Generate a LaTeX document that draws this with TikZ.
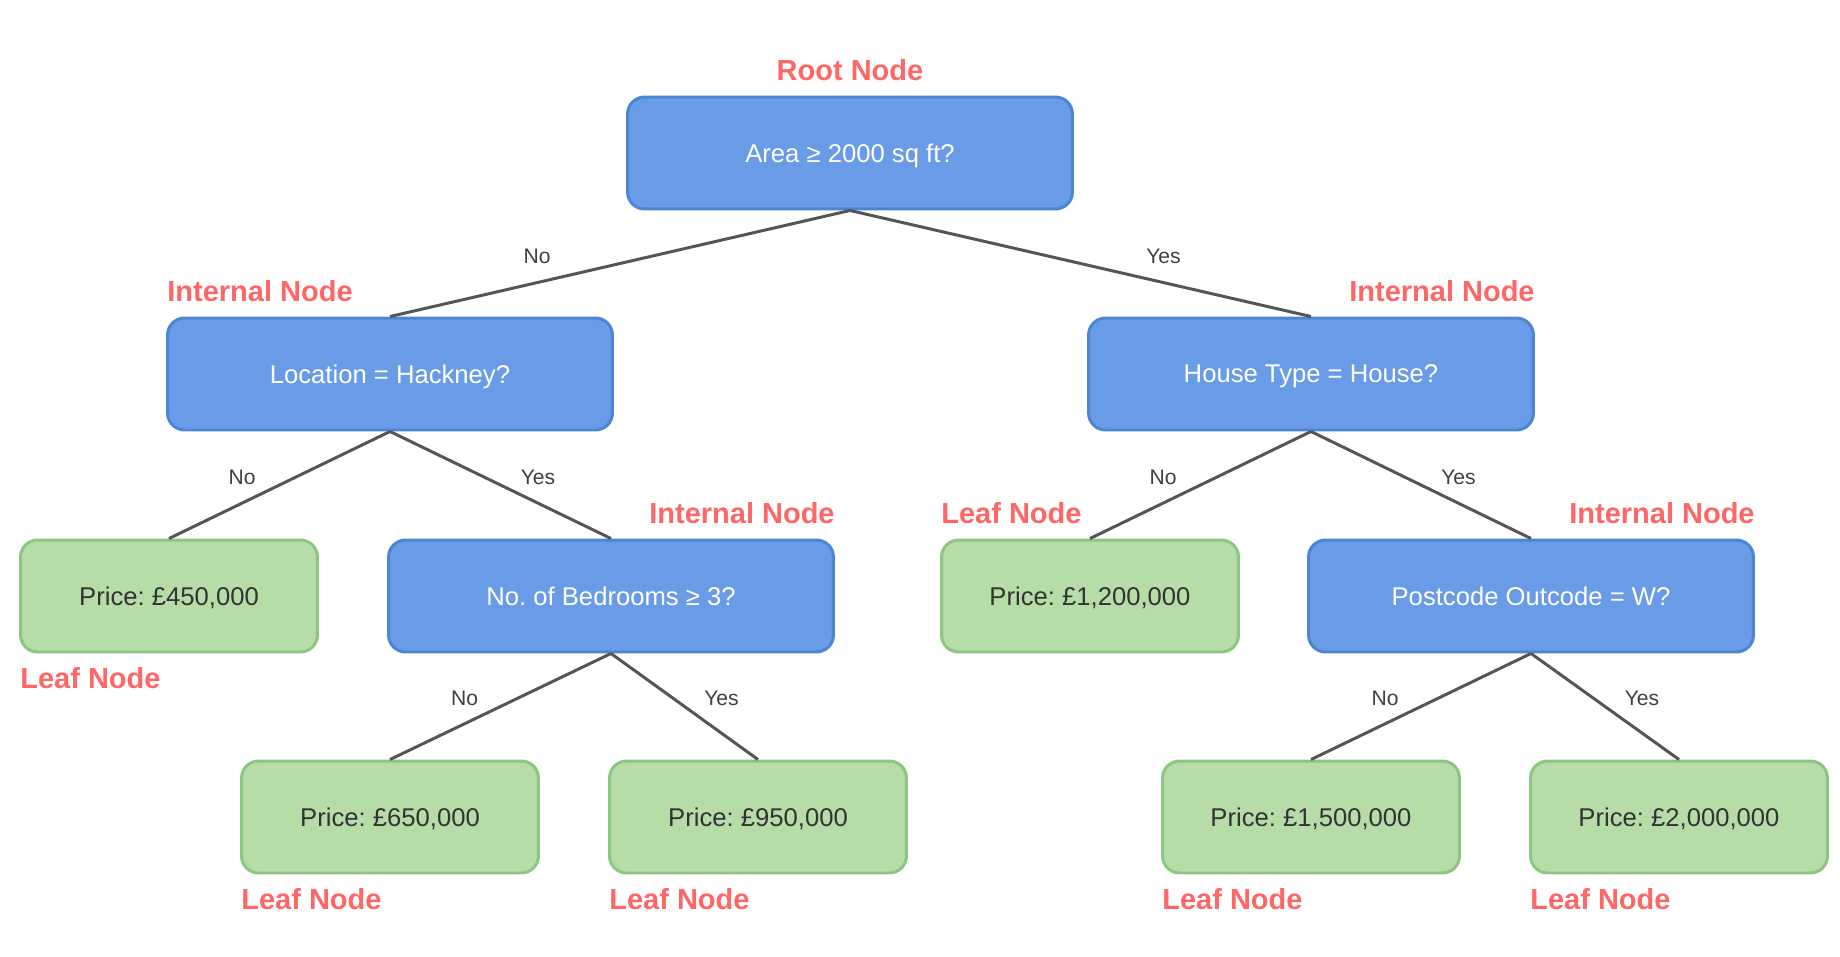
\documentclass[tikz,border=0pt]{standalone}
\usepackage{fontspec}
\setmainfont{Liberation Sans}
\usetikzlibrary{positioning}
\frenchspacing

\definecolor{splitfill}{HTML}{6A9BE6}
\definecolor{splitline}{HTML}{4A86D4}
\definecolor{leaffill}{HTML}{B6DCA8}
\definecolor{leafline}{HTML}{8DC682}
\definecolor{tagred}{HTML}{FF6666}
\definecolor{edgegrey}{HTML}{555555}

\tikzset{
  split/.style={draw=splitline, fill=splitfill, line width=1.7pt, rounded corners=0.34cm,
    minimum width=8.9cm, minimum height=2.24cm, text depth=0pt, text=white,
    font=\fontsize{14.6}{17}\selectfont},
  leaf/.style={draw=leafline, fill=leaffill, line width=1.7pt, rounded corners=0.34cm,
    minimum width=5.94cm, minimum height=2.24cm, text depth=0pt, text=black!80,
    font=\fontsize{14.6}{17}\selectfont},
  tag/.style={text=tagred, inner sep=0pt, font=\bfseries\fontsize{16.5}{19}\selectfont},
  branch/.style={draw=edgegrey, line width=1.7pt},
  answer/.style={text=black!75, font=\fontsize{12}{14}\selectfont}
}

\begin{document}
\begin{tikzpicture}[x=0.02cm, y=-0.02cm]
    \useasboundingbox (0,0) rectangle (1840,957);

    % Splits
    \node[split] (root)     at (850,153)  {Area ≥ 2000 sq ft?};
    \node[split] (location) at (390,374)  {Location = Hackney?};
    \node[split] (housetype) at (1311,374) {House Type = House?};
    \node[split] (bedrooms) at (611,596)  {No. of Bedrooms ≥ 3?};
    \node[split] (postcode) at (1531,596) {Postcode Outcode = W?};

    % Leaves
    \node[leaf] (p450)  at (169,596)  {Price: £450,000};
    \node[leaf] (p1200) at (1090,596) {Price: £1,200,000};
    \node[leaf] (p650)  at (390,817)  {Price: £650,000};
    \node[leaf] (p950)  at (758,817)  {Price: £950,000};
    \node[leaf] (p1500) at (1311,817) {Price: £1,500,000};
    \node[leaf] (p2000) at (1679,817) {Price: £2,000,000};

    % Branches
    \draw[branch] (root.south) -- (location.north)
      node[answer, midway, xshift=-1.66cm, yshift=0.14cm] {No};
    \draw[branch] (root.south) -- (housetype.north)
      node[answer, midway, xshift=1.66cm, yshift=0.14cm] {Yes};
    \draw[branch] (location.south) -- (p450.north)
      node[answer, midway, xshift=-0.75cm, yshift=0.16cm] {No};
    \draw[branch] (location.south) -- (bedrooms.north)
      node[answer, midway, xshift=0.75cm, yshift=0.16cm] {Yes};
    \draw[branch] (housetype.south) -- (p1200.north)
      node[answer, midway, xshift=-0.75cm, yshift=0.16cm] {No};
    \draw[branch] (housetype.south) -- (postcode.north)
      node[answer, midway, xshift=0.75cm, yshift=0.16cm] {Yes};
    \draw[branch] (bedrooms.south) -- (p650.north)
      node[answer, midway, xshift=-0.72cm, yshift=0.16cm] {No};
    \draw[branch] (bedrooms.south) -- (p950.north)
      node[answer, midway, xshift=0.74cm, yshift=0.16cm] {Yes};
    \draw[branch] (postcode.south) -- (p1500.north)
      node[answer, midway, xshift=-0.72cm, yshift=0.16cm] {No};
    \draw[branch] (postcode.south) -- (p2000.north)
      node[answer, midway, xshift=0.74cm, yshift=0.16cm] {Yes};

    % Node-type tags
    \node[tag, above=0.29cm of root.north] (roottag) {Root Node};
    \node[tag, above right=0.28cm and 0.02cm of location.north west] (loctag) {Internal Node};
    \node[tag, above left=0.28cm and 0cm of housetype.north east] (housetag) {Internal Node};
    \node[tag, above left=0.28cm and 0cm of bedrooms.north east] (bedtag) {Internal Node};
    \node[tag, above left=0.28cm and 0cm of postcode.north east] (posttag) {Internal Node};
    \node[tag, above right=0.28cm and 0.02cm of p1200.north west] (tag1200) {Leaf Node};
    \node[tag, below right=0.28cm and 0.02cm of p450.south west] (tag450) {Leaf Node};
    \node[tag, below right=0.28cm and 0.02cm of p650.south west] (tag650) {Leaf Node};
    \node[tag, below right=0.28cm and 0.02cm of p950.south west] (tag950) {Leaf Node};
    \node[tag, below right=0.28cm and 0.02cm of p1500.south west] (tag1500) {Leaf Node};
    \node[tag, below right=0.28cm and 0.02cm of p2000.south west] (tag2000) {Leaf Node};
\end{tikzpicture}
\end{document}
